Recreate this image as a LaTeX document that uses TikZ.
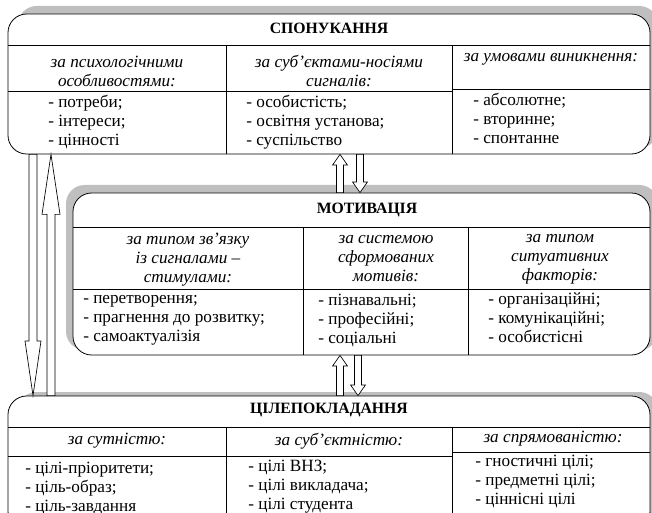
\documentclass[tikz,border=0pt]{standalone}
\usepackage{fontspec}
\setmainfont{Liberation Serif}
\usetikzlibrary{calc}
\usetikzlibrary{fit}
\newcommand{\boxfont}{\fontsize{12.9}{14.25}\selectfont}
\newcommand{\titlefont}{\fontsize{11.8}{14}\selectfont\bfseries}
% hollow block arrow: tail, tip, half shaft, half head, head length
\newcommand{\hollowarrow}[5]{%
  \filldraw[hollow] let \p1=(#1), \p2=(#2), \n1={sign(\y2-\y1)*#5} in
    (\x1-#3,\y1) -- (\x1-#3,\y2-\n1) -- (\x1-#4,\y2-\n1) -- (\x1,\y2)
    -- (\x1+#4,\y2-\n1) -- (\x1+#3,\y2-\n1) -- (\x1+#3,\y1) -- cycle;}

\begin{document}
\begin{tikzpicture}[%
    x=0.75pt, y=-0.75pt,
    panel/.style={
      rectangle,
      draw=black,
      fill=white,
      rounded corners=14pt,
      inner sep=0pt,
      line width=0.6pt
    },
    backshadow/.style={fill=black!25, rounded corners=14pt},
    rule/.style={draw=black, line width=0.6pt},
    title/.style={font=\titlefont, inner sep=0pt},
    head/.style={font=\boxfont\itshape, align=center, inner sep=0pt},
    items/.style={font=\boxfont, align=left, anchor=west, inner sep=0pt},
    hollow/.style={draw=black, fill=white, line width=0.5pt, line join=miter}
    ]
    \useasboundingbox (0,0) rectangle (652,513);
    \clip (0,0) rectangle (652,513);

    % shadows
    \fill[backshadow] (18,6) rectangle (658,148);
    \fill[backshadow] (66,185) rectangle (658,350);
    \fill[backshadow] (18,392) rectangle (658,525);

    % boxes
    \node[panel, fit={(8,14) (650,154)}] (spon) {};
    \node[panel, fit={(73,193) (650,355)}] (motiv) {};
    \node[panel, fit={(8,396) (650,530)}] (cil) {};

    % table lines
    \draw[rule] (8,45) -- (650,45);
    \draw[rule] (226,45) -- (226,154);
    \draw[rule] (452,45) -- (452,154);
    \draw[rule] (8,91) -- (452,91);
    \draw[rule] (452,89) -- (650,89);

    \draw[rule] (73,227) -- (650,227);
    \draw[rule] (303,227) -- (303,355);
    \draw[rule] (468,227) -- (468,355);
    \draw[rule] (73,289) -- (650,289);

    \draw[rule] (8,427) -- (650,427);
    \draw[rule] (226,427) -- (226,530);
    \draw[rule] (452,427) -- (452,530);
    \draw[rule] (8,456) -- (452,456);
    \draw[rule] (452,452) -- (650,452);

    % texts
    \node[title] (spontitle) at (329,28) {СПОНУКАННЯ};
    \node[head] (sponh1) at (117,71) {за психологічними\\особливостями:};
    \node[head] (sponh2) at (339,71) {за суб’єктами-носіями\\сигналів:};
    \node[head] (sponh3) at (551,59) {за умовами виникнення:};
    \node[items] (sponb1) at (48,122) {- потреби;\\- інтереси;\\- цінності};
    \node[items] (sponb2) at (246,122) {- особистість;\\- освітня установа;\\- суспільство};
    \node[items] (sponb3) at (473,118) {- абсолютне;\\- вторинне;\\- спонтанне};

    \node[title] (motivtitle) at (367,210) {МОТИВАЦІЯ};
    \node[head] (motivh1) at (188,260) {за типом зв’язку\\із сигналами –\\стимулами:};
    \node[head] (motivh2) at (386,259) {за системою\\сформованих\\мотивів:};
    \node[head] (motivh3) at (560,259) {за типом\\ситуативних\\факторів:};
    \node[items] (motivb1) at (83,320) {- перетворення;\\- прагнення до розвитку;\\- самоактуалізія};
    \node[items] (motivb2) at (318,320) {- пізнавальні;\\- професійні;\\- соціальні};
    \node[items] (motivb3) at (488,318) {- організаційні;\\- комунікаційні;\\- особистісні};

    \node[title] (ciltitle) at (329,410) {ЦІЛЕПОКЛАДАННЯ};
    \node[head] (cilh1) at (117,441) {за сутністю:};
    \node[head] (cilh2) at (339,441) {за суб’єктністю:};
    \node[head] (cilh3) at (553,439) {за спрямованістю:};
    \node[items] (cilb1) at (25,488) {- цілі-пріоритети;\\- ціль-образ;\\- ціль-завдання};
    \node[items] (cilb2) at (248,487) {- цілі ВНЗ;\\- цілі викладача;\\- цілі студента};
    \node[items] (cilb3) at (475,481) {- гностичні цілі;\\- предметні цілі;\\- ціннісні цілі};

    % arrows
    \coordinate (downl) at (spon.south -| 33,0);
    \coordinate (downlend) at (cil.north -| 33,0);
    \coordinate (upl) at (cil.north -| 51,0);
    \coordinate (uplend) at (spon.south -| 51,0);
    \hollowarrow{downl}{downlend}{3pt}{6pt}{41pt}
    \hollowarrow{upl}{uplend}{3pt}{6.75pt}{45pt}

    \coordinate (upa) at (motiv.north -| 340,0);
    \coordinate (upaend) at (spon.south -| 340,0);
    \coordinate (downa) at (spon.south -| 360,0);
    \coordinate (downaend) at (motiv.north -| 360,0);
    \hollowarrow{upa}{upaend}{2.6pt}{5.6pt}{8pt}
    \hollowarrow{downa}{downaend}{2.6pt}{5.6pt}{8pt}

    \coordinate (upb) at (cil.north -| 340,0);
    \coordinate (upbend) at (motiv.south -| 340,0);
    \coordinate (downb) at (motiv.south -| 358,0);
    \coordinate (downbend) at (cil.north -| 358,0);
    \hollowarrow{upb}{upbend}{2.6pt}{5.6pt}{8pt}
    \hollowarrow{downb}{downbend}{2.6pt}{5.6pt}{8pt}
  \end{tikzpicture}
\end{document}
